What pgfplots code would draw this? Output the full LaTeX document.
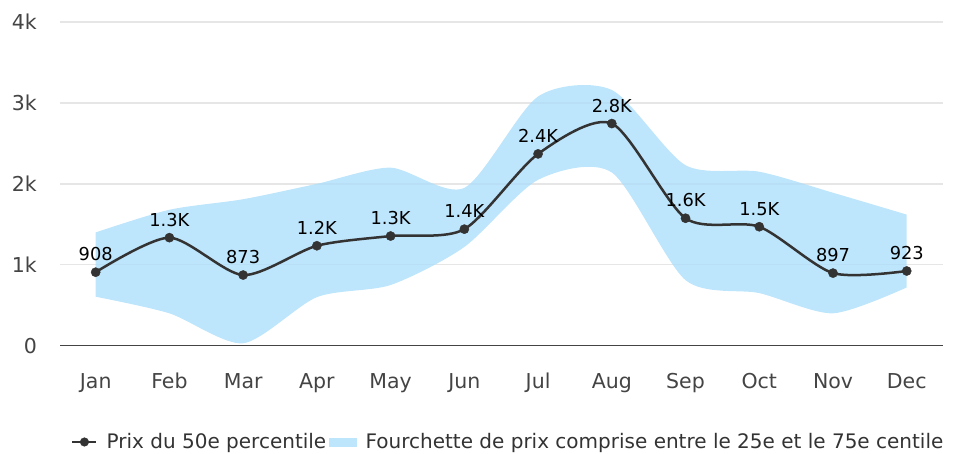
\documentclass[border=0pt]{standalone}
\usepackage{pgfplots}
\pgfplotsset{compat=1.18}
\usepackage{pgfplotstable}
\usepgfplotslibrary{fillbetween}
\usepackage{fontspec}
\setmainfont{DejaVu Sans}
\definecolor{band}{RGB}{173,222,250}
\definecolor{bandleg}{RGB}{189,229,251}
\definecolor{med}{RGB}{51,51,51}
\definecolor{tickc}{RGB}{68,68,68}
\definecolor{gridc}{RGB}{230,230,230}

\pgfplotstableread{
x up lo
0 1400 605
1 1680 400
2 1810 30
3 2000 600
4 2200 750
5 1950 1220
6 3080 2050
7 3160 2140
8 2230 810
9 2150 650
10 1890 400
11 1620 720
}\bandtab

\pgfplotstableread{
x y label
0 908 908
1 1335 1.3K
2 873 873
3 1235 1.2K
4 1355 1.3K
5 1440 1.4K
6 2370 2.4K
7 2745 2.8K
8 1575 1.6K
9 1470 1.5K
10 897 897
11 923 923
}\medtab

\begin{document}
\begin{tikzpicture}
\begin{axis}[
  at={(60pt,108.3pt)}, anchor=south west,
  scale only axis, width=883pt, height=323.7pt,
  xmin=-0.484, xmax=11.492, ymin=0, ymax=4000,
  axis line style={draw=none},
  major tick length=0pt,
  xtick={0,...,11},
  xticklabels={Jan,Feb,Mar,Apr,May,Jun,Jul,Aug,Sep,Oct,Nov,Dec},
  ytick={1000,2000,3000,4000}, yticklabels={1k,2k,3k,4k},
  extra y ticks={0}, extra y tick labels={0},
  extra y tick style={grid style={draw=tickc, line width=1.6pt}},
  ymajorgrids, grid style={draw=gridc, line width=1.4pt},
  tick label style={font=\fontsize{20.5}{24}\selectfont, text=tickc},
  xticklabel style={anchor=base, yshift=-43pt},
  yticklabel style={anchor=east, inner sep=0pt, xshift=-23pt},
  scaled y ticks=false,
  clip=false,
  legend style={at={(0.01246,-0.2975)}, anchor=west, draw=none, fill=none,
    inner sep=0pt, font=\fontsize{20}{24}\selectfont, text=med,
    nodes={inner sep=0pt},
    /tikz/every odd column/.append style={column sep=9pt},
    /tikz/every even column/.append style={column sep=3pt}},
  legend columns=2,
  legend cell align=left,
]
\addplot[name path=up, draw=none, smooth, tension=0.45, forget plot] table[x=x,y=up]{\bandtab};
\addplot[name path=lo, draw=none, smooth, tension=0.45, forget plot] table[x=x,y=lo]{\bandtab};
\addplot[fill=band, fill opacity=0.8, draw=none, forget plot] fill between[of=up and lo];
\addplot[med, line width=2.5pt, smooth, tension=0.45, mark=*, mark size=4.6pt,
  mark options={fill=med, draw=med, line width=0.4pt},
  point meta=explicit symbolic,
  nodes near coords,
  every node near coord/.append style={anchor=base, yshift=11.5pt, inner sep=0pt,
    font=\fontsize{17.8}{21}\selectfont, text=black},
  forget plot] table[x=x,y=y,meta=label]{\medtab};
\addlegendimage{legend image code/.code={\draw[med, line width=2.5pt] (0pt,0pt) -- (24pt,0pt); \fill[med] (12pt,0pt) circle (4.3pt);}}
\addlegendentry{Prix du 50e percentile}
\addlegendimage{legend image code/.code={\fill[bandleg] (0pt,-4pt) rectangle (27pt,4pt);}}
\addlegendentry{Fourchette de prix comprise entre le 25e et le 75e centile}
\end{axis}
\pgfresetboundingbox
\useasboundingbox (0pt,0pt) rectangle (960pt,454pt);
\end{tikzpicture}
\end{document}
